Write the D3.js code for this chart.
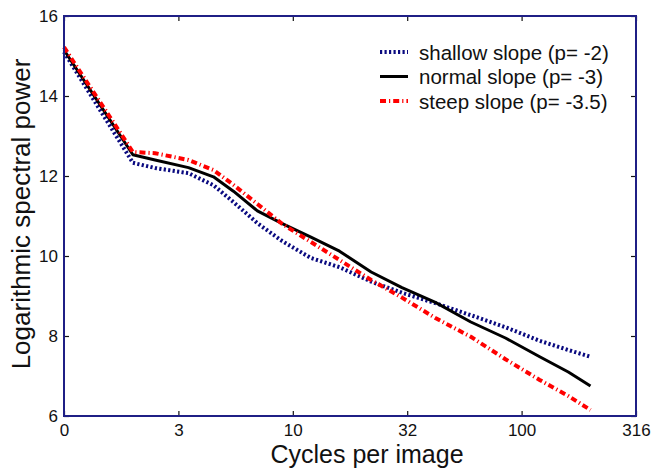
<!DOCTYPE html>
<html>
<head>
<meta charset="utf-8">
<script src="https://cdn.jsdelivr.net/npm/d3@7"></script>
<style>
  body { margin: 0; background: #fff; }
  svg { display: block; font-family: "Liberation Sans", Arial, Helvetica, sans-serif; }
</style>
</head>
<body>
<div id="chart"></div>
<script>
// datos (x en ciclos por imagen, escala log)
const cycles  = [1, 2, 2.5, 3.5, 4.5, 5.5, 7, 9, 12, 16, 22, 30, 42, 60, 85, 120, 160, 200];
const shallow = [15.1, 12.33, 12.2, 12.07, 11.77, 11.35, 10.82, 10.37, 9.95, 9.72, 9.36, 9.08, 8.82, 8.52, 8.22, 7.88, 7.65, 7.48];
const normal  = [15.15, 12.53, 12.4, 12.21, 11.98, 11.62, 11.13, 10.81, 10.47, 10.12, 9.6, 9.21, 8.84, 8.35, 7.95, 7.48, 7.1, 6.75];
const steep   = [15.22, 12.6, 12.57, 12.4, 12.15, 11.78, 11.3, 10.8, 10.35, 9.9, 9.4, 8.96, 8.45, 7.98, 7.42, 6.9, 6.5, 6.15];

const xTicks = [1, 3.1623, 10, 31.623, 100, 316.23];
const xTickLabels = ["0", "3", "10", "32", "100", "316"];
const yTicks = [6, 8, 10, 12, 14, 16];

const seriesNames = ["shallow slope (p= -2)", "normal slope (p= -3)", "steep slope (p= -3.5)"];

// dimensiones
const W = 655, H = 469;
const margin = { top: 16, right: 19, bottom: 53, left: 64 };

const svg = d3.select("#chart").append("svg")
  .attr("width", W)
  .attr("height", H);

const x = d3.scaleLog()
  .domain([1, 316.23])
  .range([margin.left, W - margin.right]);

const y = d3.scaleLinear()
  .domain([6, 16])
  .range([H - margin.bottom, margin.top]);

const frameColor = "#1f1f85";

// ticks hacia dentro en los cuatro lados
svg.append("g")
  .attr("transform", `translate(0,${H - margin.bottom})`)
  .call(d3.axisBottom(x).tickValues(xTicks).tickSize(-5).tickPadding(8)
    .tickFormat((d, i) => xTickLabels[i]))
  .call(g => g.select(".domain").remove())
  .call(g => g.selectAll("text").style("font-size", "17px").attr("fill", "#111"));

svg.append("g")
  .attr("transform", `translate(0,${margin.top})`)
  .call(d3.axisTop(x).tickValues(xTicks).tickSize(-5).tickFormat(""))
  .call(g => g.select(".domain").remove());

svg.append("g")
  .attr("transform", `translate(${margin.left},0)`)
  .call(d3.axisLeft(y).tickValues(yTicks).tickSize(-5).tickPadding(6))
  .call(g => g.select(".domain").remove())
  .call(g => g.selectAll("text").style("font-size", "17px").attr("fill", "#111"));

svg.append("g")
  .attr("transform", `translate(${W - margin.right},0)`)
  .call(d3.axisRight(y).tickValues(yTicks).tickSize(-5).tickFormat(""))
  .call(g => g.select(".domain").remove());

svg.selectAll(".tick line").attr("stroke", "#111").attr("stroke-width", 1.2);

// curvas
const styles = [
  { values: shallow, color: "#0a0a80", width: 4, dash: "2.2,2.3" },
  { values: normal,  color: "#000",    width: 3, dash: null },
  { values: steep,   color: "#ff0000", width: 4, dash: "6,3,1.2,3" }
];

const line = d3.line()
  .x(d => x(d[0]))
  .y(d => y(d[1]));

styles.forEach(s => {
  svg.append("path")
    .datum(cycles.map((c, i) => [c, s.values[i]]))
    .attr("d", line)
    .attr("fill", "none")
    .attr("stroke", s.color)
    .attr("stroke-width", s.width)
    .attr("stroke-linejoin", "round")
    .attr("stroke-dasharray", s.dash);
});

// marco
svg.append("rect")
  .attr("x", margin.left)
  .attr("y", margin.top)
  .attr("width", W - margin.left - margin.right)
  .attr("height", H - margin.top - margin.bottom)
  .attr("fill", "none")
  .attr("stroke", frameColor)
  .attr("stroke-width", 2);

// leyenda
const legend = svg.append("g").attr("transform", "translate(380,52)");
styles.forEach((s, i) => {
  const row = legend.append("g").attr("transform", `translate(0,${i * 24.5})`);
  row.append("line")
    .attr("x1", 0).attr("x2", 28)
    .attr("stroke", s.color)
    .attr("stroke-width", s.width)
    .attr("stroke-dasharray", s.dash);
  row.append("text")
    .attr("x", 39)
    .attr("y", 7.5)
    .style("font-size", "20.5px")
    .attr("fill", "#111")
    .text(seriesNames[i]);
});

// títulos
svg.append("text")
  .attr("x", 367)
  .attr("y", 463)
  .attr("text-anchor", "middle")
  .style("font-size", "25px")
  .attr("fill", "#111")
  .text("Cycles per image");

svg.append("text")
  .attr("transform", "translate(30,214) rotate(-90)")
  .attr("text-anchor", "middle")
  .style("font-size", "26px")
  .attr("fill", "#111")
  .text("Logarithmic spectral power");
</script>
</body>
</html>
